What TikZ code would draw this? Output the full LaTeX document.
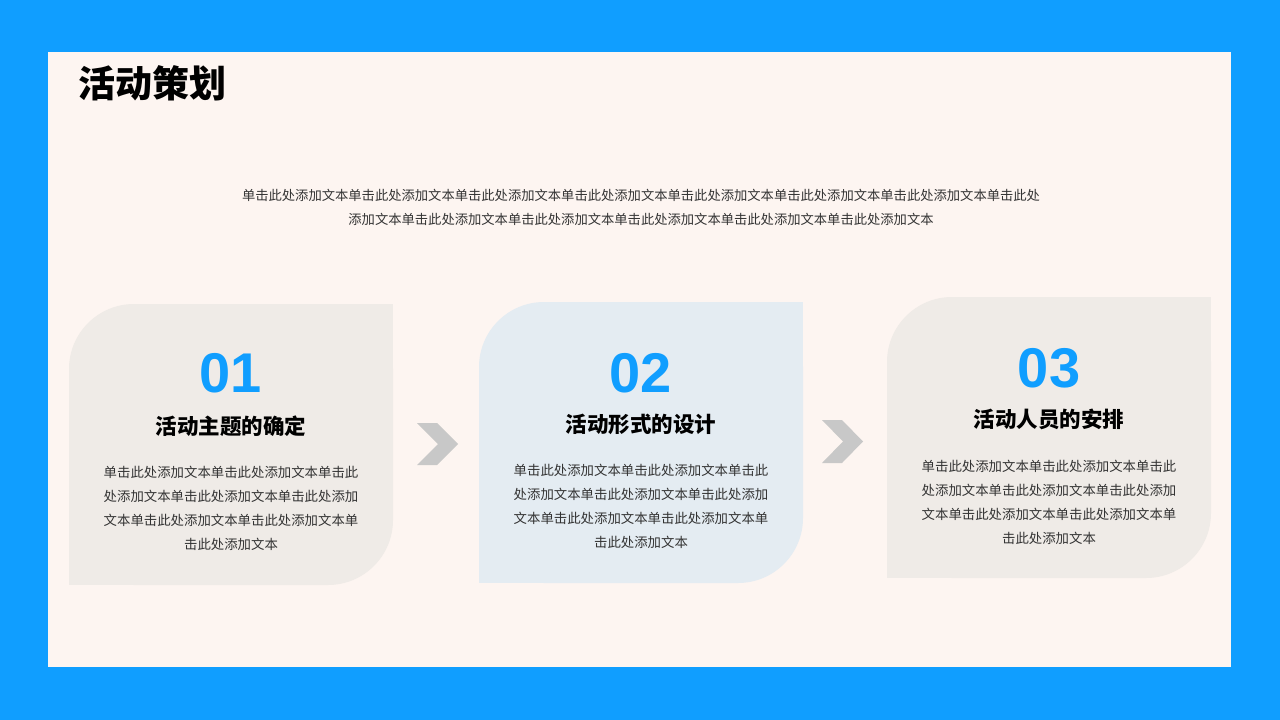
\documentclass[tikz,border=0pt]{standalone}
\usepackage{fontspec}
\setmainfont{Noto Sans CJK SC}
\newfontfamily\numfont{Liberation Sans}
\definecolor{frameblue}{HTML}{109EFF}
\definecolor{paper}{HTML}{FDF5F1}
\definecolor{cardsand}{HTML}{EFEBE7}
\definecolor{cardsky}{HTML}{E4ECF2}
\definecolor{chevgray}{HTML}{C8C8C8}
\definecolor{bodygray}{HTML}{333333}
\tikzset{
  stepnum/.style={inner sep=0pt, text=frameblue, font=\numfont\bfseries\fontsize{56}{56}\selectfont},
  stephead/.style={inner sep=0pt, text=black, font=\bfseries\fontsize{21.5}{21.5}\selectfont},
  stepbody/.style={inner sep=0pt, text=bodygray, align=center, font=\fontsize{13.4}{24}\selectfont},
  chev/.style={fill=chevgray}
}
\begin{document}
\begin{tikzpicture}[x=1pt,y=-1pt]
        \useasboundingbox (0,0) rectangle (1280,720);
        \fill[frameblue] (0,0) rectangle (1280,720);
        \fill[paper] (48,52) rectangle (1231,667);

        \node[anchor=west, inner sep=0pt, font=\bfseries\fontsize{37}{37}\selectfont] (title) at (78,83) {活动策划};
        \node[inner sep=0pt, align=center, text=bodygray, font=\fontsize{13.3}{24}\selectfont] (intro) at (641,207)
          {单击此处添加文本单击此处添加文本单击此处添加文本单击此处添加文本单击此处添加文本单击此处添加文本单击此处添加文本单击此处\\
           添加文本单击此处添加文本单击此处添加文本单击此处添加文本单击此处添加文本单击此处添加文本};

        % cards: rounded top-left and bottom-right corners
        \foreach \x/\y/\c in {69/304/cardsand, 479/302/cardsky, 887/297/cardsand}{
          \fill[\c, rounded corners=65pt] (\x,\y) rectangle (\x+324,\y+281);
          \fill[\c] (\x+160,\y) rectangle (\x+324,\y+120);
          \fill[\c] (\x,\y+160) rectangle (\x+160,\y+281);
        }

        % chevrons
        \fill[chev] (417,423) -- (437,423) -- (458,444) -- (437,465) -- (417,465) -- (438,444) -- cycle;
        \fill[chev] (822,420) -- (842,420) -- (863,441.5) -- (842,463) -- (822,463) -- (843,441.5) -- cycle;

        \node[stepnum] (num1) at (231,373) {01};
        \node[stephead] (head1) at (231,426) {活动主题的确定};
        \node[stepbody] (body1) at (231,508)
          {单击此处添加文本单击此处添加文本单击此\\处添加文本单击此处添加文本单击此处添加\\文本单击此处添加文本单击此处添加文本单\\击此处添加文本};

        \node[stepnum] (num2) at (641,373) {02};
        \node[stephead] (head2) at (641,424) {活动形式的设计};
        \node[stepbody] (body2) at (641,506)
          {单击此处添加文本单击此处添加文本单击此\\处添加文本单击此处添加文本单击此处添加\\文本单击此处添加文本单击此处添加文本单\\击此处添加文本};

        \node[stepnum] (num3) at (1049,368) {03};
        \node[stephead] (head3) at (1049,419) {活动人员的安排};
        \node[stepbody] (body3) at (1049,502)
          {单击此处添加文本单击此处添加文本单击此\\处添加文本单击此处添加文本单击此处添加\\文本单击此处添加文本单击此处添加文本单\\击此处添加文本};

      \end{tikzpicture}
\end{document}
